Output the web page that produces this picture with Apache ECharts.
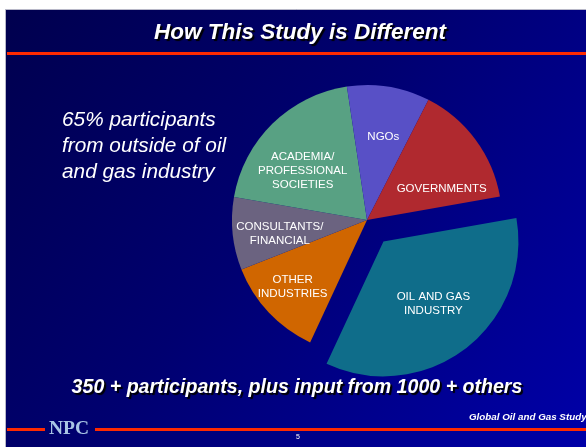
<!DOCTYPE html>
<html><head><meta charset="utf-8">
<script src="https://cdn.jsdelivr.net/npm/echarts@6/dist/echarts.min.js"></script>
<style>html,body{margin:0;padding:0;background:#fff}#c{width:586px;height:447px}</style>
</head><body><div id="c"></div>
<script>
const categories = ['OIL AND GAS\nINDUSTRY','OTHER\nINDUSTRIES','CONSULTANTS/\nFINANCIAL','ACADEMIA/\nPROFESSIONAL\nSOCIETIES','NGOs','GOVERNMENTS'];
const shares = [34.7, 12.1, 8.7, 19.9, 9.9, 14.7];
const explodedIndex = 0;
const colors = ['#0f6d8a','#d06600','#6b6380','#58a183','#5850c6','#b0292f'];
const labelOffsets = [[7,7],[-23,18],[-17,7],[-15,1],[5,-14],[18,11]];

const chart = echarts.init(document.getElementById('c'), null, {renderer:'canvas'});
const W = 586, H = 447;
const option = {
  backgroundColor: '#ffffff',
  animation: false,
  graphic: [
    {type:'rect', z:-10, shape:{x:5.5,y:9.5,width:W,height:H}, style:{
      fill:{type:'linear',x:0,y:0,x2:1,y2:1,colorStops:[{offset:0,color:'#00004e'},{offset:0.45,color:'#000070'},{offset:1,color:'#0000aa'}]},
      stroke:'#b8b8c8', lineWidth:1}},
    {type:'line', shape:{x1:7,y1:53.5,x2:W,y2:53.5}, style:{stroke:'#ff2a00', lineWidth:3}},
    {type:'text', x:300, y:33, style:{text:'How This Study is Different', font:'italic bold 22.5px "Liberation Sans", Arial', align:'center', verticalAlign:'middle', fill:'#ffffff', textShadowColor:'#000000', textShadowOffsetX:2, textShadowOffsetY:2, textShadowBlur:1}},
    {type:'text', x:62, y:107, style:{text:'65% participants\nfrom outside of oil\nand gas industry', font:'italic 20.8px "Liberation Sans", Arial', lineHeight:26, fill:'#ffffff', textShadowColor:'#000000', textShadowOffsetX:1, textShadowOffsetY:1}},
    {type:'text', x:297, y:388, style:{text:'350 + participants, plus input from 1000 + others', font:'italic bold 19.6px "Liberation Sans", Arial', align:'center', verticalAlign:'middle', fill:'#ffffff', textShadowColor:'#000000', textShadowOffsetX:2, textShadowOffsetY:2, textShadowBlur:1}},
    {type:'text', x:469, y:412, style:{text:'Global Oil and Gas Study', font:'italic bold 9.8px "Liberation Sans", Arial', fill:'#ffffff'}},
    {type:'line', shape:{x1:7,y1:429.5,x2:45,y2:429.5}, style:{stroke:'#ff2a00', lineWidth:3}},
    {type:'line', shape:{x1:95,y1:429.5,x2:W,y2:429.5}, style:{stroke:'#ff2a00', lineWidth:3}},
    {type:'text', x:49, y:419, style:{text:'NPC', font:'bold 19.5px "Liberation Serif", "Times New Roman", serif', fill:'#a8c4e4'}},
    {type:'text', x:296, y:434, style:{text:'5', font:'7px "Liberation Sans", Arial', fill:'#ffffff'}}
  ],
  series: [{
    type:'pie',
    center:[367,220],
    radius:[0,135],
    startAngle:10,
    clockwise:true,
    selectedMode:'single',
    selectedOffset:27,
    avoidLabelOverlap:false,
    label:{show:true, position:'inside', color:'#ffffff', fontSize:11.5, lineHeight:14, fontFamily:'"Liberation Sans", Arial', align:'center'},
    labelLine:{show:false},
    itemStyle:{borderWidth:0},
    emphasis:{disabled:true},
    data: categories.map((n,i)=>({name:n, value:shares[i], selected:i===explodedIndex, itemStyle:{color:colors[i]},
      label:{offset:labelOffsets[i]}, select:{label:{offset:labelOffsets[i]}}}))
  }]
};
chart.setOption(option);
</script></body></html>
